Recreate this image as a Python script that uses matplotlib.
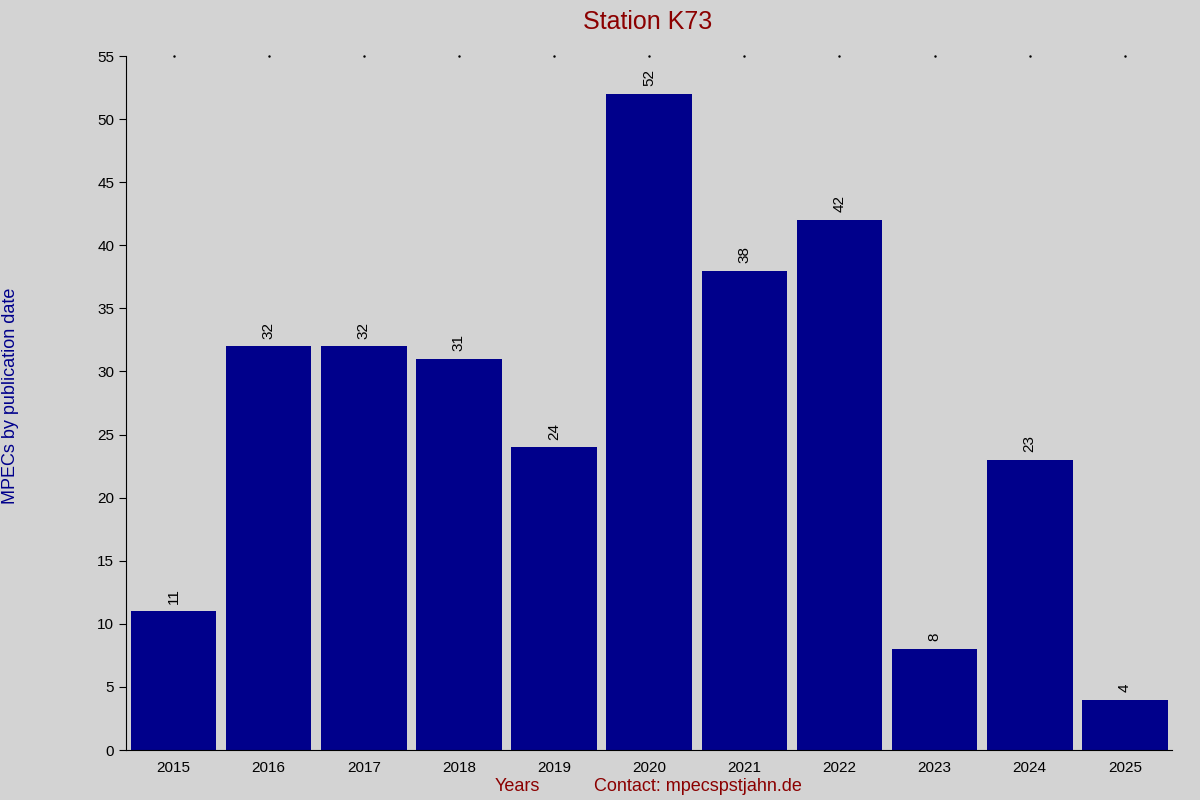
import matplotlib
matplotlib.use("Agg")
import matplotlib.pyplot as plt

years = ["2015","2016","2017","2018","2019","2020","2021","2022","2023","2024","2025"]
counts = [11, 32, 32, 31, 24, 52, 38, 42, 8, 23, 4]

plt.rcParams['font.family'] = ['Liberation Sans', 'DejaVu Sans']
fig = plt.figure(figsize=(12, 8), dpi=100, facecolor='#D3D3D3')
ax = fig.add_axes([0.105, 0.0625, 0.872, 0.8675])
ax.set_facecolor('#D3D3D3')
x = list(range(len(years)))
ax.bar(x, counts, width=0.9, color='#00008B')
for xi, v in zip(x, counts):
    ax.text(xi, v + 0.6, str(v), rotation=90, ha='center', va='bottom', fontsize=11)
ax.set_xlim(-0.5, 10.5)
ax.set_ylim(0, 55)
ax.set_yticks(range(0, 56, 5))
ax.set_xticks(x)
ax.set_xticklabels(years)
ax.tick_params(axis='both', labelsize=11, length=5, colors='black')
ax.tick_params(axis='x', length=0, pad=8)
for s in ['top', 'right']:
    ax.spines[s].set_visible(False)
for xi in x:
    ax.plot(xi, 55, marker='.', markersize=1.5, color='black', clip_on=False)
fig.text(0.54, 0.972, "Station K73", ha='center', va='center', fontsize=18, color='#8B0000')
fig.text(0.431, 0.017, "Years", ha='center', va='center', fontsize=13, color='#8B0000')
fig.text(0.582, 0.017, "Contact: mpecspstjahn.de", ha='center', va='center', fontsize=13, color='#8B0000')
fig.text(0.009, 0.505, "MPECs by publication date", rotation=90, ha='center', va='center', fontsize=13, color='#00008B')
fig.savefig("out.png", dpi=100, facecolor='#D3D3D3')
